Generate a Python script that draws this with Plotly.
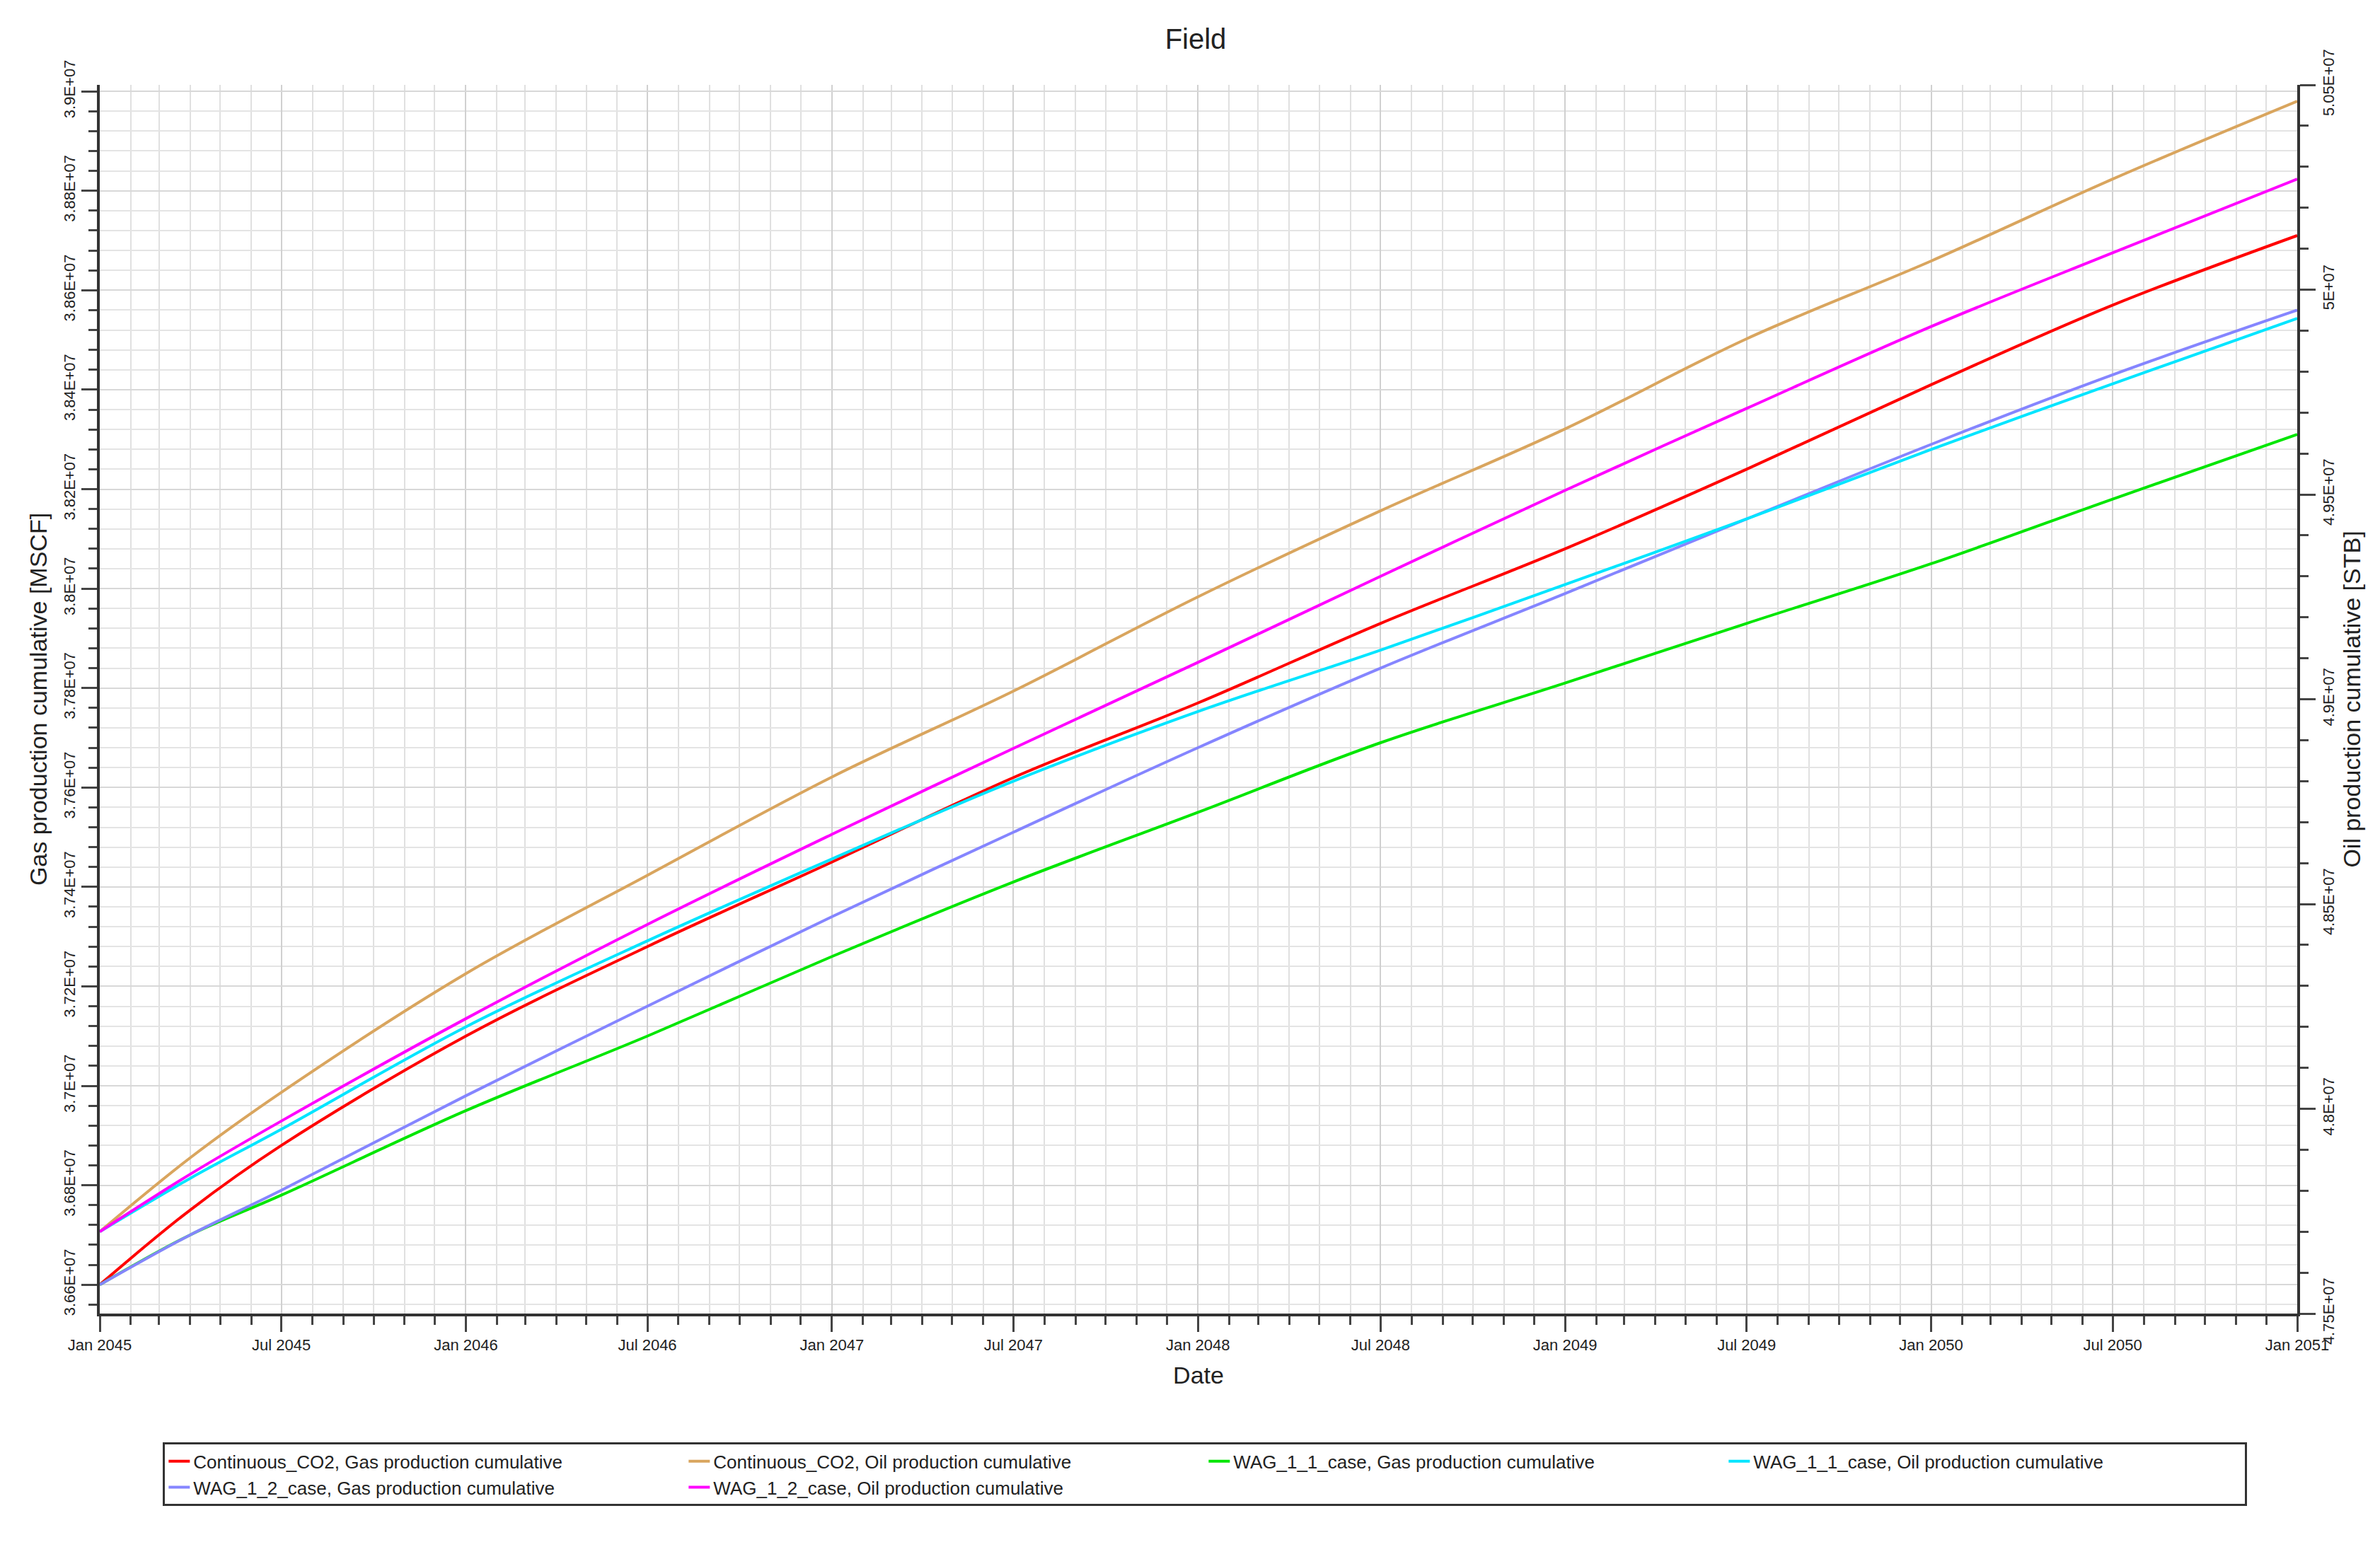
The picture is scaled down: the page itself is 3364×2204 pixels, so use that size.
import plotly.graph_objects as go

dates = ["2045-01-01", "2045-04-01", "2045-07-01", "2046-01-01", "2046-07-01", "2047-01-01",
         "2047-07-01", "2048-01-01", "2048-07-01", "2049-01-01", "2049-07-01", "2050-01-01",
         "2050-07-01", "2051-01-01"]

# gas cumulative [MSCF] (left axis), in units of 1E7
co2_gas = [3.660, 3.675, 3.688, 3.710, 3.728, 3.745, 3.762, 3.777, 3.793, 3.808, 3.824, 3.841, 3.857, 3.871]
wag11_gas = [3.660, 3.670, 3.678, 3.695, 3.710, 3.726, 3.741, 3.755, 3.769, 3.781, 3.793, 3.805, 3.818, 3.831]
wag12_gas = [3.660, 3.670, 3.679, 3.698, 3.716, 3.734, 3.751, 3.768, 3.784, 3.799, 3.814, 3.829, 3.843, 3.856]
# oil cumulative [STB] (right axis), in units of 1E7
co2_oil = [4.770, 4.788, 4.804, 4.833, 4.857, 4.881, 4.902, 4.925, 4.946, 4.966, 4.988, 5.007, 5.027, 5.046]
wag11_oil = [4.770, 4.783, 4.795, 4.820, 4.841, 4.861, 4.880, 4.897, 4.912, 4.928, 4.944, 4.961, 4.977, 4.993]
wag12_oil = [4.770, 4.784, 4.797, 4.822, 4.845, 4.867, 4.888, 4.909, 4.930, 4.951, 4.971, 4.991, 5.009, 5.027]

left_ticks = [3.66, 3.68, 3.70, 3.72, 3.74, 3.76, 3.78, 3.80, 3.82, 3.84, 3.86, 3.88, 3.90]
left_text = ["3.66E+07", "3.68E+07", "3.7E+07", "3.72E+07", "3.74E+07", "3.76E+07", "3.78E+07",
             "3.8E+07", "3.82E+07", "3.84E+07", "3.86E+07", "3.88E+07", "3.9E+07"]
right_ticks = [4.75, 4.80, 4.85, 4.90, 4.95, 5.00, 5.05]
right_text = ["4.75E+07", "4.8E+07", "4.85E+07", "4.9E+07", "4.95E+07", "5E+07", "5.05E+07"]

series = [
    ("Continuous_CO2, Gas production cumulative", co2_gas, "y", "#ff0000"),
    ("Continuous_CO2, Oil production cumulative", co2_oil, "y2", "#d9a55e"),
    ("WAG_1_1_case, Gas production cumulative", wag11_gas, "y", "#00e600"),
    ("WAG_1_1_case, Oil production cumulative", wag11_oil, "y2", "#00e5ff"),
    ("WAG_1_2_case, Gas production cumulative", wag12_gas, "y", "#8585ff"),
    ("WAG_1_2_case, Oil production cumulative", wag12_oil, "y2", "#ff00ff"),
]

fig = go.Figure()
for name, vals, ax, col in series:
    fig.add_trace(go.Scatter(x=dates, y=[v * 1e7 for v in vals], yaxis=ax, name=name,
                             mode="lines", line=dict(color=col, width=4, shape="spline")))

font = "Arial, Liberation Sans, sans-serif"
fig.update_layout(
    width=3364, height=2204, plot_bgcolor="white", paper_bgcolor="white",
    font=dict(family=font, color="#222", size=22),
    title=dict(text="Field", x=0.5, xanchor="center", y=0.985, font=dict(size=40)),
    margin=dict(l=133, r=125, t=112, b=355),
    xaxis=dict(range=["2045-01-01 00:00:01", "2051-01-01"], dtick="M6", tick0="2045-01-01",
               tickformat="%b %Y", ticks="outside", ticklen=22, tickwidth=3,
               showline=True, linecolor="#333", linewidth=4, showgrid=True,
               gridcolor="#d0d0d0", gridwidth=2,
               minor=dict(dtick="M1", showgrid=True, gridcolor="#e0e0e0", ticks="outside",
                          ticklen=12, tickwidth=3),
               title=dict(text="Date", font=dict(size=34), standoff=20),
               tickfont=dict(size=22)),
    yaxis=dict(range=[3.6542e7, 3.9013e7], tickvals=[v * 1e7 for v in left_ticks], ticktext=left_text,
               tickangle=-90, ticks="outside", ticklen=22, tickwidth=3, showline=True,
               linecolor="#333", linewidth=4, showgrid=True, gridcolor="#d8d8d8", gridwidth=2,
               minor=dict(dtick=0.004e7, tick0=3.66e7, showgrid=True, gridcolor="#e4e4e4",
                          ticks="outside", ticklen=12, tickwidth=3),
               title=dict(text="Gas production cumulative [MSCF]", font=dict(size=34), standoff=10),
               tickfont=dict(size=22), zeroline=False),
    yaxis2=dict(range=[4.75e7, 5.05e7], overlaying="y", side="right",
                tickvals=[v * 1e7 for v in right_ticks], ticktext=right_text,
                tickangle=-90, ticks="outside", ticklen=22, tickwidth=3, showline=True,
                linecolor="#333", linewidth=4, showgrid=False,
                minor=dict(dtick=0.01e7, ticks="outside", ticklen=12, tickwidth=3),
                title=dict(text="Oil production cumulative [STB]", font=dict(size=34), standoff=10),
                tickfont=dict(size=22), zeroline=False),
    legend=dict(orientation="h", x=0.503, xanchor="center", y=-0.105, yanchor="top",
                bordercolor="#333", borderwidth=3, entrywidth=690, font=dict(size=26),
                tracegroupgap=10),
    showlegend=True,
)

fig.write_html("out.html")
